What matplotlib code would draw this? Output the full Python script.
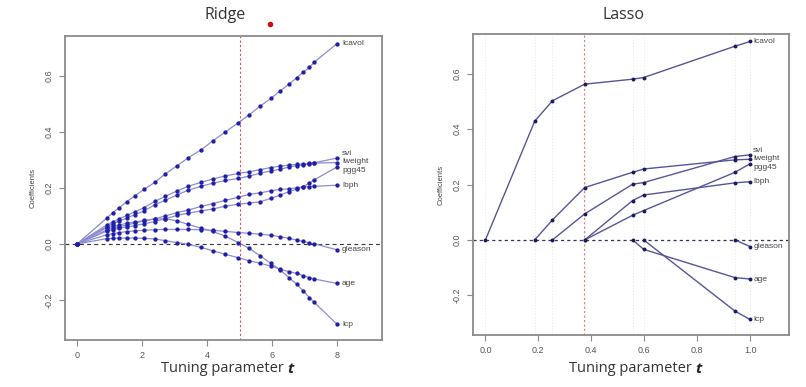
import matplotlib
matplotlib.use("Agg")
import matplotlib.pyplot as plt
from matplotlib.lines import Line2D
import numpy as np

# ---------------- data ----------------
names = ["lcavol", "lweight", "age", "lbph", "svi", "lcp", "gleason", "pgg45"]

ridge_df = [0, 0.91, 1.10, 1.30, 1.53, 1.79, 2.06, 2.39, 2.71, 3.07, 3.41, 3.81, 4.17,
            4.56, 4.96, 5.30, 5.64, 5.96, 6.25, 6.52, 6.76, 6.96, 7.15, 7.29, 8.0]

ridge_lcavol = [0, 0.092, 0.112, 0.130, 0.151, 0.173, 0.195, 0.220, 0.250, 0.279, 0.307, 0.336, 0.368,
                0.400, 0.433, 0.462, 0.493, 0.520, 0.547, 0.571, 0.594, 0.614, 0.631, 0.649, 0.716]
ridge_lweight = [0, 0.062, 0.072, 0.082, 0.093, 0.105, 0.118, 0.140, 0.156, 0.175, 0.192, 0.206, 0.217,
                 0.227, 0.234, 0.243, 0.253, 0.261, 0.267, 0.275, 0.280, 0.283, 0.287, 0.289, 0.291]
ridge_age = [0, 0.019, 0.020, 0.021, 0.021, 0.021, 0.020, 0.018, 0.012, 0.005, -0.001, -0.012, -0.024,
             -0.037, -0.049, -0.060, -0.069, -0.079, -0.090, -0.099, -0.105, -0.113, -0.120, -0.125, -0.141]
ridge_lbph = [0, 0.050, 0.056, 0.062, 0.068, 0.075, 0.082, 0.090, 0.100, 0.112, 0.121, 0.134, 0.144,
              0.156, 0.167, 0.177, 0.183, 0.190, 0.195, 0.197, 0.201, 0.204, 0.205, 0.206, 0.210]
ridge_svi = [0, 0.068, 0.079, 0.090, 0.102, 0.115, 0.130, 0.152, 0.170, 0.189, 0.206, 0.220, 0.232,
             0.243, 0.252, 0.258, 0.266, 0.273, 0.278, 0.282, 0.284, 0.286, 0.288, 0.290, 0.307]
ridge_lcp = [0, 0.058, 0.063, 0.068, 0.074, 0.079, 0.084, 0.089, 0.090, 0.083, 0.070, 0.057, 0.045,
             0.028, 0.005, -0.016, -0.043, -0.069, -0.093, -0.120, -0.144, -0.168, -0.192, -0.208, -0.287]
ridge_gleason = [0, 0.033, 0.037, 0.041, 0.044, 0.047, 0.049, 0.051, 0.052, 0.052, 0.052, 0.051, 0.049,
                 0.045, 0.041, 0.038, 0.035, 0.031, 0.026, 0.020, 0.014, 0.009, 0.004, 0.001, -0.021]
ridge_pgg45 = [0, 0.046, 0.051, 0.056, 0.061, 0.066, 0.072, 0.080, 0.090, 0.102, 0.110, 0.118, 0.125,
               0.135, 0.142, 0.146, 0.151, 0.163, 0.175, 0.187, 0.196, 0.205, 0.218, 0.229, 0.275]

lasso_s = [0.0, 0.186, 0.253, 0.375, 0.556, 0.598, 0.943, 1.0]
lasso_lcavol = [0, 0.428, 0.502, 0.562, 0.580, 0.586, 0.699, 0.716]
lasso_lweight = [0, 0, 0.072, 0.189, 0.244, 0.256, 0.289, 0.291]
lasso_age = [0, 0, 0, 0, 0, -0.034, -0.136, -0.141]
lasso_lbph = [0, 0, 0, 0, 0.142, 0.162, 0.206, 0.210]
lasso_svi = [0, 0, 0, 0.094, 0.201, 0.207, 0.301, 0.307]
lasso_lcp = [0, 0, 0, 0, 0, 0, -0.257, -0.287]
lasso_gleason = [0, 0, 0, 0, 0, 0, 0, -0.024]
lasso_pgg45 = [0, 0, 0, 0, 0.089, 0.106, 0.244, 0.275]

ridge_best = 5.0
lasso_best = 0.373

ridge_ticks = [0, 2, 4, 6, 8]
lasso_ticks = [0.0, 0.2, 0.4, 0.6, 0.8, 1.0]
y_ticks = [-0.2, 0.0, 0.2, 0.4, 0.6]

ridge_series = [ridge_lcavol, ridge_lweight, ridge_age, ridge_lbph, ridge_svi, ridge_lcp, ridge_gleason, ridge_pgg45]
lasso_series = [lasso_lcavol, lasso_lweight, lasso_age, lasso_lbph, lasso_svi, lasso_lcp, lasso_gleason, lasso_pgg45]

# label vertical nudges (data units) to spread the crowded end labels
label_nudge = {"svi": 0.017, "lweight": 0.002, "pgg45": -0.014}

# ---------------- figure ----------------
W, H = 806, 387
fig = plt.figure(figsize=(W / 100, H / 100), dpi=100)
fig.patch.set_facecolor("white")

def fbox(x0, y0, x1, y1):
    return [x0 / W, 1 - y1 / H, (x1 - x0) / W, (y1 - y0) / H]

axL = fig.add_axes(fbox(65, 36, 382, 340))
axR = fig.add_axes(fbox(473, 34, 789, 335))

tick_font = dict(family="Liberation Sans", size=6.5, color="#555555")

def style_axes(ax, xlim, xticks, xticklabels):
    ax.set_xlim(*xlim)
    ax.set_ylim(-0.343, 0.743)
    for sp in ax.spines.values():
        sp.set_color("#8a8a8a")
        sp.set_linewidth(1.3)
    ax.set_xticks(xticks)
    ax.set_xticklabels(xticklabels, fontdict=tick_font)
    ax.set_yticks(y_ticks)
    ax.set_yticklabels([f"{v:.1f}" for v in y_ticks], fontdict=tick_font, rotation=90, va="center")
    ax.tick_params(axis="both", direction="out", length=4, width=0.8, color="#8a8a8a", pad=4)
    ax.set_ylabel("Coefficients", fontsize=5.5, color="#444444", family="Liberation Sans", labelpad=6)

style_axes(axL, (-0.37, 9.38), ridge_ticks, [str(t) for t in ridge_ticks])
style_axes(axR, (-0.047, 1.147), lasso_ticks, [f"{t:.1f}" for t in lasso_ticks])

label_font = dict(fontsize=6, color="#444444", family="Liberation Sans", va="center", ha="left")

# ---- ridge ----
axL.axhline(0, color="#333333", lw=0.8, ls=(0, (3.5, 3)), zorder=1)
axL.axvline(ridge_best, color="#e05050", lw=0.8, ls=(0, (2, 2)), zorder=1)
for name, vals in zip(names, ridge_series):
    axL.plot(ridge_df, vals, color="#8c8cd0", lw=0.9, zorder=2)
    axL.plot(ridge_df, vals, ls="none", marker="o", ms=2.1, color="#1e1ea8", mec="#1e1ea8", zorder=3)
    axL.text(ridge_df[-1] + 0.15, vals[-1] + label_nudge.get(name, 0), name, **label_font)

# ---- lasso ----
for s in lasso_s:
    axR.axvline(s, color="#e6e6e6", lw=0.7, ls=(0, (1, 2)), zorder=0)
axR.axhline(0, color="#333355", lw=0.9, ls=(0, (2.5, 2.5)), zorder=1)
axR.axvline(lasso_best, color="#e08080", lw=0.8, ls=(0, (2, 2)), zorder=1)
for name, vals in zip(names, lasso_series):
    v = np.array(vals)
    nz = np.nonzero(v)[0]
    start = max(nz[0] - 1, 0) if len(nz) else 0
    xs = lasso_s[start:]
    ys = vals[start:]
    axR.plot(xs, ys, color="#55559a", lw=1.0, zorder=2)
    axR.plot(xs, ys, ls="none", marker="o", ms=1.8, color="#1a1a60", zorder=3)
    axR.text(lasso_s[-1] + 0.012, vals[-1] + label_nudge.get(name, 0), name, **label_font)

# ---- titles ----
fig.text(225 / W, 1 - 15 / H, "Ridge", ha="center", va="center", fontsize=11.5,
         family="Open Sans", color="#333333")
fig.text(623 / W, 1 - 15 / H, "Lasso", ha="center", va="center", fontsize=11.5,
         family="Open Sans", color="#333333")

# ---- x labels: "Tuning parameter" + bold italic t ----
fig.canvas.draw()
renderer = fig.canvas.get_renderer()
for cx in (227, 635):
    base = "Tuning parameter "
    t1 = fig.text(0, 0, base, fontsize=10.5, family="Open Sans", color="#333333", va="center")
    t2 = fig.text(0, 0, "t", fontsize=11, family="Open Sans", fontweight="bold", style="italic",
                  color="#222222", va="center")
    w1 = t1.get_window_extent(renderer).width
    w2 = t2.get_window_extent(renderer).width
    x0 = cx - (w1 + w2) / 2
    t1.set_position((x0 / W, 1 - 369 / H))
    t2.set_position(((x0 + w1) / W, 1 - 369 / H))

# small red dot near the Ridge title
fig.add_artist(Line2D([270 / W], [1 - 24 / H], marker="o", ms=3, color="#cc1010",
                      transform=fig.transFigure, ls="none"))

fig.savefig("out.png", dpi=100, facecolor="white")
